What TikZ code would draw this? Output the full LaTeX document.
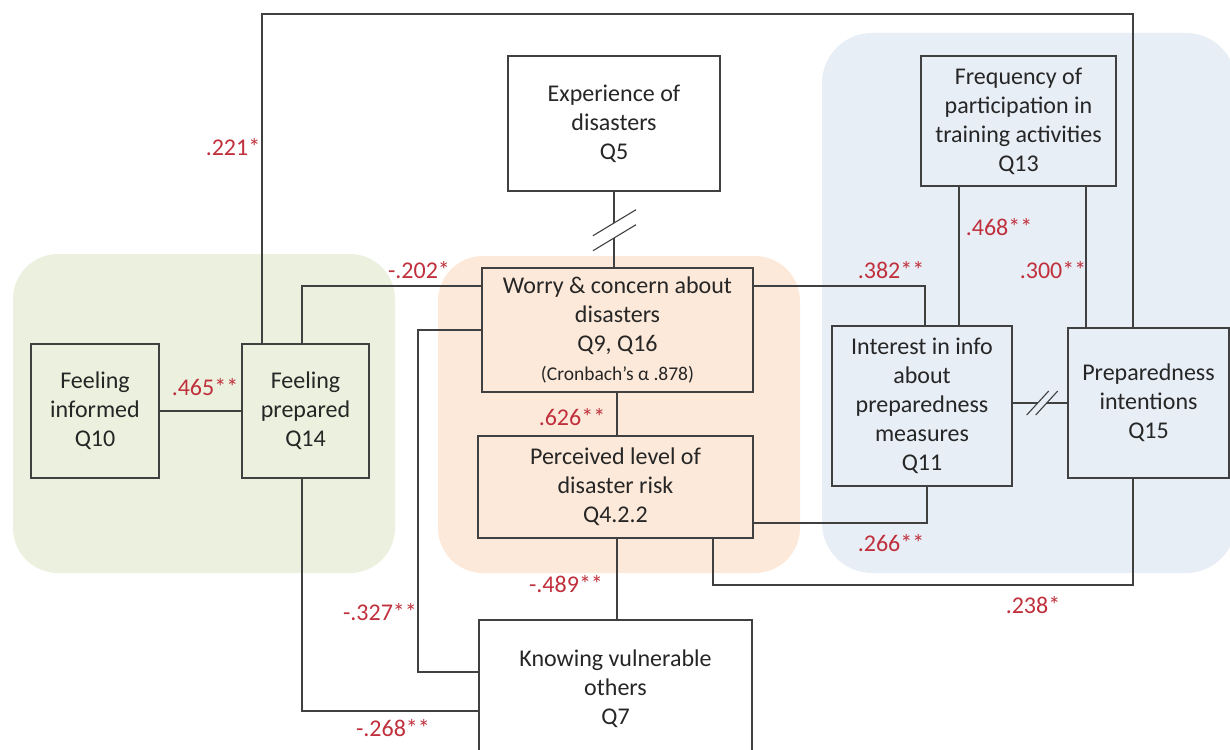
\documentclass[tikz,border=0pt]{standalone}
\usepackage{fontspec}
\setmainfont{Carlito}
\usetikzlibrary{calc}
\definecolor{ln}{HTML}{404040}
\definecolor{tx}{HTML}{262626}
\definecolor{rd}{HTML}{C0303C}
\definecolor{bgG}{HTML}{EBF1DE}
\definecolor{bgO}{HTML}{FDE9D9}
\definecolor{bgB}{HTML}{E8EEF6}
\begin{document}
\begin{tikzpicture}[x=1pt,y=-1pt,
  box/.style={draw=ln, line width=1.4pt, rectangle, inner sep=0pt, align=center, text=tx, font=\fontsize{24}{29}\selectfont},
  conn/.style={draw=ln, line width=1.4pt},
  brk/.style={draw=ln, line width=1.1pt},
  lab/.style={text=rd, font=\fontsize{24}{29}\selectfont, inner sep=0pt}]
\useasboundingbox (0,0) rectangle (1230,749);
\clip (0,0) rectangle (1230,749);
% background zones
\fill[bgG, rounded corners=45pt] (13,254) rectangle (395,573);
\fill[bgO, rounded corners=45pt] (438,256) rectangle (800,573);
\fill[bgB, rounded corners=50pt] (822,33) rectangle (1236,573);
% boxes
\node[box, minimum width=128pt, minimum height=134pt] (Q10) at (95,411) {Feeling\\informed\\Q10};
\node[box, minimum width=127pt, minimum height=134pt] (Q14) at (305.5,411) {Feeling\\prepared\\Q14};
\node[box, fill=white, minimum width=212pt, minimum height=135pt] (Q5) at (614,123.5) {Experience of\\disasters\\Q5};
\node[box, minimum width=271pt, minimum height=124pt] (Wo) at (617.5,330) {Worry \& concern about\\disasters\\Q9, Q16\\{\fontsize{19.5}{22}\selectfont (Cronbach’s α .878)}};
\node[box, minimum width=275pt, minimum height=102pt] (Pe) at (615.5,487) {Perceived level of\\disaster risk\\Q4.2.2};
\node[box, fill=white, minimum width=273pt, minimum height=138pt] (Q7) at (615.5,689) {Knowing vulnerable\\others\\Q7};
\node[box, minimum width=195pt, minimum height=130pt] (Q13) at (1018.5,121) {Frequency of\\participation in\\training activities\\Q13};
\node[box, minimum width=180pt, minimum height=160pt] (Q11) at (922,406) {Interest in info\\about\\preparedness\\measures\\Q11};
\node[box, minimum width=161pt, minimum height=150pt] (Q15) at (1148.5,403) {Preparedness\\intentions\\Q15};
% helper coordinates
\coordinate (topy) at (0,14);
\coordinate (boty) at (0,585);
\coordinate (xl) at (418,0);
% connectors
\draw[conn] (Q10.east) -- (Q14.west);
\coordinate (a1) at ([xshift=-43.5pt]Q14.north);
\coordinate (a2) at ([xshift=-15.5pt]Q15.north);
\draw[conn] (a1) -- (a1 |- topy) -| (a2);
\coordinate (b1) at ([xshift=-3.5pt]Q14.north);
\coordinate (b2) at ([yshift=44pt]Wo.west);
\draw[conn] (b1) |- (b2);
% Q5 -- Worry with break
\coordinate (s1) at ($(Q5.south)+(0,31)$);
\coordinate (s2) at ($(Q5.south)+(0,46)$);
\draw[conn] (Q5.south) -- (s1);
\draw[conn] (s2) -- (Q5.south |- Wo.north);
\draw[brk] ($(s1)+(-21,13)$) -- ($(s1)+(22,-13)$);
\draw[brk] ($(s2)+(-21,13)$) -- ($(s2)+(22,-13)$);
\draw[conn] ([xshift=-0.5pt]Wo.south) -- ([xshift=-0.5pt]Wo.south |- Pe.north);
\coordinate (c1) at ([yshift=44pt]Wo.east);
\coordinate (c2) at ([xshift=3pt]Q11.north);
\draw[conn] (c1) -| (c2);
\coordinate (d1) at ([yshift=-36pt]Pe.east);
\coordinate (d2) at ([xshift=5pt]Q11.south);
\draw[conn] (d1) -| (d2);
\coordinate (e1) at ([xshift=97.5pt]Pe.south);
\coordinate (e2) at ([xshift=-15.5pt]Q15.south);
\draw[conn] (e1) -- (e1 |- boty) -| (e2);
\draw[conn] ([xshift=1.5pt]Pe.south) -- ([xshift=1.5pt]Pe.south |- Q7.north);
\coordinate (f2) at ([yshift=17pt]Q7.west);
\draw[conn] (Wo.west) -- (Wo.west -| xl) |- (f2);
\coordinate (g1) at ([xshift=-3.5pt]Q14.south);
\coordinate (g2) at ([yshift=-22pt]Q7.west);
\draw[conn] (g1) |- (g2);
\coordinate (h1) at ([xshift=-59.5pt]Q13.south);
\draw[conn] (h1) -- (h1 |- Q11.north);
\coordinate (i1) at ([xshift=67.5pt]Q13.south);
\draw[conn] (i1) -- (i1 |- Q15.north);
% Q11 -- Q15 with break
\coordinate (r0) at (Q15.west -| Q11.east);
\coordinate (r1) at ($(r0)+(25,0)$);
\coordinate (r2) at ($(r0)+(34,0)$);
\draw[conn] (r0) -- (r1);
\draw[conn] (r2) -- (Q15.west);
\draw[brk] ($(r1)+(-11,12)$) -- ($(r1)+(11,-12)$);
\draw[brk] ($(r2)+(-11,12)$) -- ($(r2)+(11,-12)$);
% labels
\node[lab] (l1) at (233,147) {.221*};
\node[lab] (l2) at (205,387) {.465**};
\node[lab] (l3) at (419,270) {-.202*};
\node[lab] (l4) at (572,417) {.626**};
\node[lab] (l5) at (566,584) {-.489**};
\node[lab] (l6) at (380,612) {-.327**};
\node[lab] (l7) at (393,728) {-.268**};
\node[lab] (l8) at (891,270) {.382**};
\node[lab] (l9) at (999,227) {.468**};
\node[lab] (l10) at (1053,270) {.300**};
\node[lab] (l11) at (891,543) {.266**};
\node[lab] (l12) at (1033,605) {.238*};
\end{tikzpicture}
\end{document}
